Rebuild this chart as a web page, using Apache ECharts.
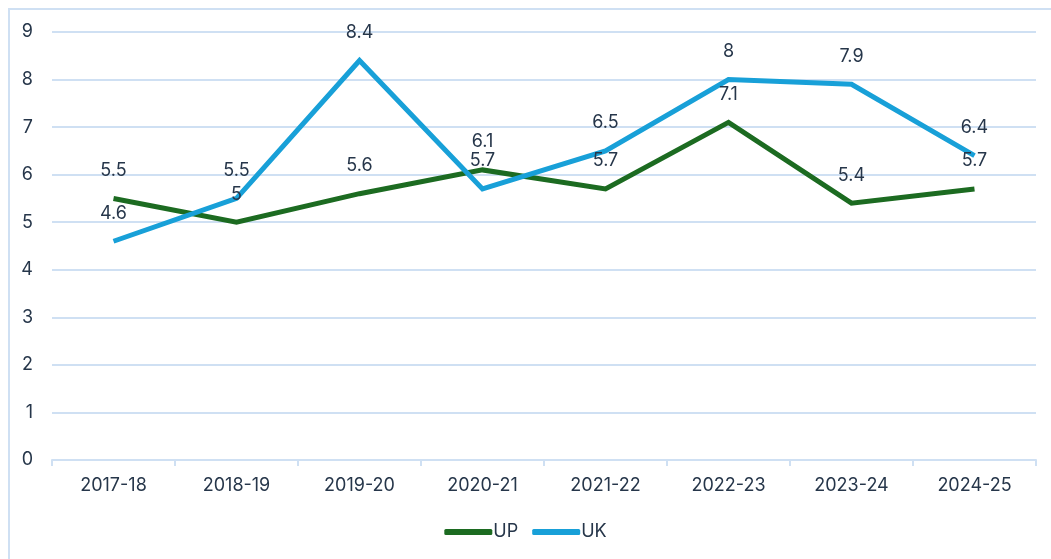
<!DOCTYPE html>
<html>
<head>
<meta charset="utf-8">
<script src="https://cdn.jsdelivr.net/npm/echarts@6/dist/echarts.min.js"></script>
<style>
  html, body { margin: 0; padding: 0; overflow: hidden; background: #fff; }
  #frame { position: absolute; left: 8px; top: 8px; width: 1200px; height: 700px; border: 2px solid #cfe0f3; }
  #chart { position: absolute; left: 0; top: 0; width: 1051px; height: 559px; }
</style>
</head>
<body>
<div id="frame"></div>
<div id="chart"></div>
<script>
// data
var years = ['2017-18', '2018-19', '2019-20', '2020-21', '2021-22', '2022-23', '2023-24', '2024-25']
var upData = [5.5, 5.0, 5.6, 6.1, 5.7, 7.1, 5.4, 5.7]
var ukData = [4.6, 5.5, 8.4, 5.7, 6.5, 8.0, 7.9, 6.4]

var textColor = '#26364a'
var gridColor = '#cfe0f3'
var font = 'Inter'

var chart = echarts.init(document.getElementById('chart'))

function lineSeries(name, data, color) {
    return {
        name: name,
        type: 'line',
        data: data,
        symbol: 'circle',
        symbolSize: 0,
        showSymbol: true,
        lineStyle: { color: color, width: 5, join: 'miter' },
        itemStyle: { color: color },
        label: {
            show: true,
            position: 'top',
            distance: 19,
            color: textColor,
            fontSize: 18,
            fontFamily: font,
            formatter: function (p) { return String(p.value) }
        },
        emphasis: { disabled: true },
        animation: false
    }
}

chart.setOption({
    textStyle: { fontFamily: font },
    grid: { left: 52, right: 15, top: 32, bottom: 99 },
    legend: {
        bottom: 13,
        left: 'center',
        icon: 'roundRect',
        itemWidth: 48,
        itemHeight: 6,
        itemGap: 14,
        textStyle: { color: textColor, fontSize: 18, padding: [0, 0, 0, -4] },
        data: ['UP', 'UK']
    },
    xAxis: {
        type: 'category',
        data: years,
        boundaryGap: true,
        axisLine: { lineStyle: { color: gridColor, width: 2 } },
        axisTick: { show: true, length: 6, lineStyle: { color: gridColor, width: 2 } },
        axisLabel: { color: textColor, fontSize: 18, margin: 17 }
    },
    yAxis: {
        type: 'value',
        min: 0,
        max: 9,
        interval: 1,
        axisLine: { show: false },
        axisTick: { show: false },
        splitLine: { lineStyle: { color: gridColor, width: 2 } },
        axisLabel: { color: textColor, fontSize: 18, margin: 19 }
    },
    series: [
        lineSeries('UP', upData, '#1c6b21'),
        lineSeries('UK', ukData, '#18a0d8')
    ]
})
</script>
</body>
</html>
